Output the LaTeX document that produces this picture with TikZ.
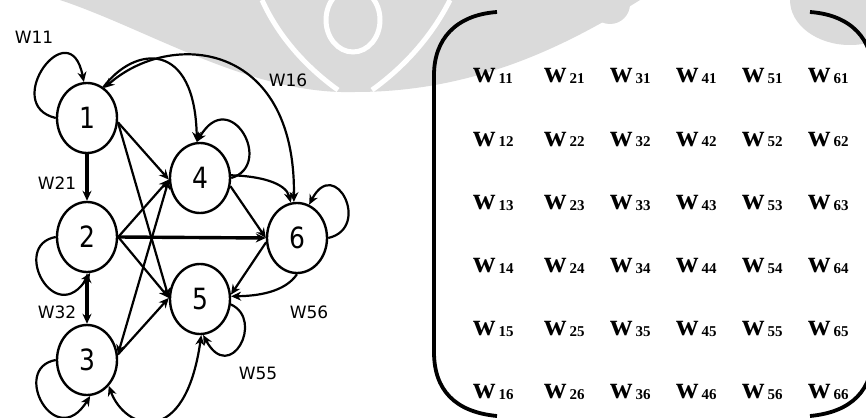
\documentclass[tikz,border=0pt]{standalone}
\usepackage{fontspec}
\usepackage{graphicx}
\newfontfamily\lblfont{DejaVu Sans}
\newfontfamily\mfont{Liberation Serif}
\usetikzlibrary{shapes.geometric,arrows.meta}
\definecolor{wmgray}{HTML}{DADADA}
\newcommand{\vdig}[1]{\scalebox{1}[1.17]{#1}}
\newcommand{\mentry}[2]{{\mfont\bfseries\fontsize{31}{31}\selectfont w}\kern3pt\raisebox{-1pt}{\mfont\bfseries\fontsize{15}{15}\selectfont #1#2}}
\tikzset{
  vtx/.style={ellipse, draw, line width=2.4pt, minimum width=60pt, minimum height=70pt, inner sep=0pt, font=\lblfont\fontsize{25}{25}\selectfont},
  edg/.style={line width=2.2pt, ->},
  thk/.style={line width=3.4pt},
  wlbl/.style={font=\lblfont\fontsize{17}{17}\selectfont, inner sep=0pt},
  mcell/.style={anchor=base west, inner sep=0pt},
  brk/.style={line width=3.8pt},
  wmark/.style={fill=wmgray, draw=none},
  wgap/.style={draw=white, line width=5pt},
}
\begin{document}
\begin{tikzpicture}[x=1pt,y=-1pt,>={Stealth[length=10pt,width=9pt]}]
\useasboundingbox (0,0) rectangle (866,417);
\fill[white] (0,0) rectangle (866,417);
\clip (0,0) rectangle (866,417);

% faint watermark
\path[wmark] (60,0) .. controls (150,30) and (250,95) .. (355,92) .. controls (470,92) and (560,50) .. (640,0) -- cycle;
\path[wmark] (610,4) circle[radius=20];
\path[wmark] (850,0) ellipse[x radius=60, y radius=45];
\draw[wgap] (262,0) .. controls (280,40) and (310,70) .. (338,90);
\draw[wgap] (450,0) .. controls (430,40) and (400,70) .. (372,90);
\draw[wgap] (353,20) ellipse[x radius=27, y radius=32];

% vertices
\node[vtx] (n1) at (87,118) {\vdig{1}};
\node[vtx] (n2) at (87,237) {\vdig{2}};
\node[vtx] (n3) at (87,360) {\vdig{3}};
\node[vtx] (n4) at (200,178) {\vdig{4}};
\node[vtx] (n5) at (200,299) {\vdig{5}};
\node[vtx] (n6) at (297,238) {\vdig{6}};

% straight edges
\draw[edg,thk] (n1.south) -- (n2.north);
\draw[edg,thk,<->] (n2.south) -- (n3.north);
\draw[edg,thk] (n2.east) -- (n6.west);
\draw[edg] (n1.-8) -- (n4.183);
\draw[edg] (n1.-8) -- (n5.178);
\draw[edg] (n2.east) -- (n4.183);
\draw[edg] (n2.east) -- (n5.178);
\draw[edg,<->] (n3.10) -- (n4.183);
\draw[edg] (n3.10) -- (n5.178);
\draw[edg] (n4.-15) -- (n6.west);
\draw[edg] (n6.188) -- (n5.8);

% curved edges
\draw[edg] (n6.south) .. controls (285,292) and (258,296) .. (n5.5);
\draw[edg] (n4.5) .. controls (260,176) and (286,183) .. (n6.100);
\draw[edg,<->] (n6.95) .. controls (296,40) and (170,30) .. (n1.60);
\draw[edg] (n1.62) .. controls (135,45) and (195,40) .. (n4.95);
\draw[edg,<->] (n3.-50) .. controls (125,430) and (185,450) .. (n5.-88);

% self loops
\draw[edg] (n1.180) .. controls (0,105) and (70,10) .. (n1.95);
\draw[edg] (n4.east) .. controls (275,165) and (230,85) .. (n4.95);
\draw[edg] (n6.east) .. controls (372,228) and (335,155) .. (n6.70);
\draw[edg] (n2.west) .. controls (10,245) and (55,330) .. (n2.-85);
\draw[edg] (n3.west) .. controls (10,368) and (55,453) .. (n3.-85);
\draw[edg] (n5.-10) .. controls (265,320) and (230,385) .. (n5.-85);

% weight labels
\node[wlbl] (l11) at (34,37) {W11};
\node[wlbl] (l16) at (288,80) {W16};
\node[wlbl] (l21) at (57,183) {W21};
\node[wlbl] (l32) at (57,312) {W32};
\node[wlbl] (l56) at (309,312) {W56};
\node[wlbl] (l55) at (258,373) {W55};

% matrix
\foreach \c/\x in {1/473,2/544,3/610,4/676,5/742,6/808}{
  \foreach \r/\y in {1/83,2/146,3/209,4/272,5/335,6/398}{
    \node[mcell] (m\c\r) at (\x,\y) {\mentry{\c}{\r}};
  }
}

% brackets
\draw[brk] (497,12) .. controls (455,15) and (434,40) .. (434,75) -- (434,352) .. controls (434,390) and (455,412) .. (497,416);
\draw[brk] (810,12) .. controls (852,15) and (873,40) .. (873,75) -- (873,352) .. controls (873,390) and (852,412) .. (810,416);
\end{tikzpicture}
\end{document}
